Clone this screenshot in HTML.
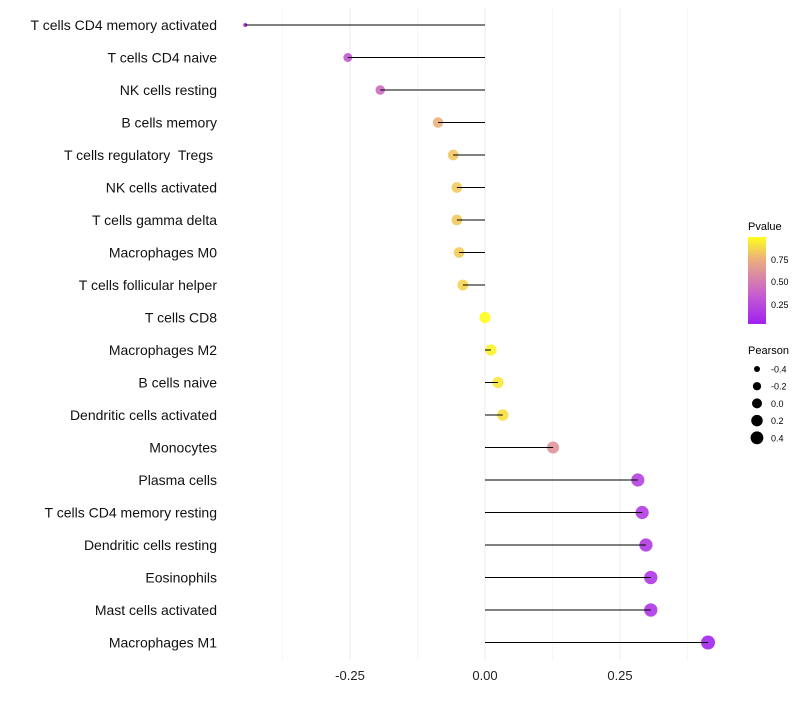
<!DOCTYPE html>
<html><head><meta charset="utf-8"><style>
body{margin:0;background:#fff;font-family:"Liberation Sans",sans-serif}
</style></head><body>
<svg id="chart" width="800" height="700" xmlns="http://www.w3.org/2000/svg" font-family="Liberation Sans, sans-serif">
<defs><linearGradient id="pg" x1="0" y1="1" x2="0" y2="0">
<stop offset="0" stop-color="#a020f0"/><stop offset="0.3" stop-color="#c257d4"/><stop offset="0.5" stop-color="#d67eb0"/><stop offset="0.75" stop-color="#ecb07c"/><stop offset="1" stop-color="#ffff1a"/></linearGradient></defs>
<g id="grid"></g><g id="points"></g><g id="marks"></g><g id="labels"></g><g id="xaxis"></g>
<g>
<text x="748" y="230" font-size="11">Pvalue</text>
<rect x="748" y="237" width="18" height="87" fill="url(#pg)"/>
<text x="771" y="263" font-size="9">0.75</text><text x="771" y="285" font-size="9">0.50</text><text x="771" y="308" font-size="9">0.25</text>
</g>
<g id="sizelegend"><text x="748" y="354" font-size="11">Pearson</text></g>
</svg>
<script>
const categories=["T cells CD4 memory activated","T cells CD4 naive","NK cells resting","B cells memory","T cells regulatory\u00a0 Tregs\u00a0","NK cells activated","T cells gamma delta","Macrophages M0","T cells follicular helper","T cells CD8","Macrophages M2","B cells naive","Dendritic cells activated","Monocytes","Plasma cells","T cells CD4 memory resting","Dendritic cells resting","Eosinophils","Mast cells activated","Macrophages M1"];
const pearson=[-0.444,-0.254,-0.194,-0.087,-0.059,-0.052,-0.052,-0.048,-0.041,0.0,0.011,0.024,0.033,0.126,0.283,0.291,0.298,0.307,0.307,0.413];
const pvalues=[0.02,0.3,0.4,0.75,0.82,0.83,0.83,0.84,0.86,0.99,0.96,0.92,0.9,0.6,0.18,0.15,0.14,0.12,0.12,0.03];
const xTicks=[-0.25,0,0.25];
const xTickLabels=["-0.25","0.00","0.25"];
const sizeLegend=[-0.4,-0.2,0.0,0.2,0.4];
const NS="http://www.w3.org/2000/svg";
const xs=v=>485+v*540;
const ys=i=>25+i*32.5;
const rs=v=>v<-0.4?2:Math.sqrt(12+(v+0.444)*43);
const stops=[[0,[160,32,240]],[0.3,[194,87,212]],[0.5,[214,126,176]],[0.75,[236,176,124]],[1,[255,255,26]]];
function col(p){for(let i=1;i<stops.length;i++){if(p<=stops[i][0]){const a=stops[i-1],b=stops[i],t=(p-a[0])/(b[0]-a[0]);return"rgb("+a[1].map((c,k)=>Math.round(c+(b[1][k]-c)*t)).join(",")+")";}}return"rgb(255,255,26)";}
function mk(t,at,parent){const e=document.createElementNS(NS,t);for(const k in at)e.setAttribute(k,at[k]);document.getElementById(parent).appendChild(e);return e;}
[-0.375,-0.125,0.125,0.375].forEach(v=>{const l=mk("line",{x1:xs(v),x2:xs(v),y1:8,y2:660,stroke:"#f2f2f2","stroke-width":0.6},"grid");});
xTicks.forEach((v,i)=>{const l=mk("line",{x1:xs(v),x2:xs(v),y1:8,y2:660,stroke:"#ebebeb","stroke-width":1},"grid");
const t=mk("text",{x:xs(v),y:680,"font-size":13,"text-anchor":"middle",fill:"#222"},"xaxis");t.textContent=xTickLabels[i];});
categories.forEach((c,i)=>{
const p=mk("circle",{cx:xs(pearson[i]),cy:ys(i),r:rs(pearson[i]),fill:col(pvalues[i]),"fill-opacity":0.9},"points");
const l=mk("line",{x1:xs(0),x2:xs(pearson[i]),y1:ys(i),y2:ys(i),stroke:"#000","stroke-width":1},"marks");
const t=mk("text",{x:217,y:ys(i)+5,"font-size":14,"text-anchor":"end",fill:"#111"},"labels");t.textContent=c;});
sizeLegend.forEach((v,i)=>{const y=369+i*17.2;
const c=mk("circle",{cx:757,cy:y,r:Math.sqrt(9+(v+0.4)*40),fill:"#000"},"sizelegend");
const t=mk("text",{x:771,y:y+3.5,"font-size":9},"sizelegend");t.textContent=v.toFixed(1);});
</script>
</body></html>
